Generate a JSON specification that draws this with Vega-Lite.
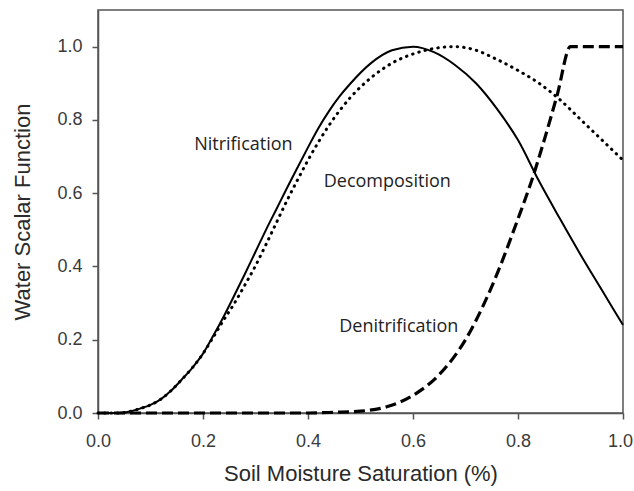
{
  "$schema": "https://vega.github.io/schema/vega-lite/v6.json",
  "width": 525,
  "height": 403,
  "autosize": "none",
  "padding": {"left": 98, "top": 10, "right": 11, "bottom": 78},
  "background": "white",
  "config": {
    "view": {"stroke": "#555", "strokeWidth": 1.5},
    "axis": {
      "grid": false,
      "domainColor": "#555",
      "domainWidth": 1.5,
      "tickColor": "#555",
      "tickWidth": 1.5,
      "tickSize": 6,
      "labelFont": "Liberation Sans",
      "labelFontSize": 18,
      "labelColor": "#3a3a3a",
      "labelFlush": false,
      "titleFont": "Liberation Sans",
      "titleFontSize": 22,
      "titleFontWeight": "normal",
      "titleColor": "#2a2a2a"
    }
  },
  "datasets": {
    "nitrification": [
      {"x": 0.0, "y": 0.0}, {"x": 0.04, "y": 0.0}, {"x": 0.06, "y": 0.004}, {"x": 0.08, "y": 0.012},
      {"x": 0.1, "y": 0.022}, {"x": 0.12, "y": 0.038}, {"x": 0.14, "y": 0.062}, {"x": 0.16, "y": 0.092},
      {"x": 0.18, "y": 0.124}, {"x": 0.2, "y": 0.162}, {"x": 0.22, "y": 0.212}, {"x": 0.24, "y": 0.265},
      {"x": 0.26, "y": 0.322}, {"x": 0.28, "y": 0.38}, {"x": 0.3, "y": 0.44}, {"x": 0.32, "y": 0.5},
      {"x": 0.34, "y": 0.557}, {"x": 0.36, "y": 0.614}, {"x": 0.38, "y": 0.67}, {"x": 0.4, "y": 0.725},
      {"x": 0.42, "y": 0.778}, {"x": 0.44, "y": 0.824}, {"x": 0.46, "y": 0.864}, {"x": 0.48, "y": 0.898},
      {"x": 0.52, "y": 0.955}, {"x": 0.56, "y": 0.99},
      {"x": 0.6, "y": 1.0}, {"x": 0.64, "y": 0.985}, {"x": 0.68, "y": 0.95}, {"x": 0.72, "y": 0.9},
      {"x": 0.76, "y": 0.83}, {"x": 0.8, "y": 0.745}, {"x": 0.84, "y": 0.633}, {"x": 0.88, "y": 0.53},
      {"x": 0.92, "y": 0.43}, {"x": 0.96, "y": 0.335}, {"x": 1.0, "y": 0.24}
    ],
    "decomposition": [
      {"x": 0.0, "y": 0.0}, {"x": 0.04, "y": 0.0}, {"x": 0.06, "y": 0.004}, {"x": 0.08, "y": 0.012},
      {"x": 0.1, "y": 0.022}, {"x": 0.12, "y": 0.038}, {"x": 0.14, "y": 0.062}, {"x": 0.16, "y": 0.092},
      {"x": 0.18, "y": 0.124}, {"x": 0.2, "y": 0.162}, {"x": 0.22, "y": 0.208}, {"x": 0.24, "y": 0.255},
      {"x": 0.26, "y": 0.3}, {"x": 0.28, "y": 0.35}, {"x": 0.3, "y": 0.402}, {"x": 0.32, "y": 0.46},
      {"x": 0.34, "y": 0.52}, {"x": 0.36, "y": 0.58}, {"x": 0.38, "y": 0.636}, {"x": 0.4, "y": 0.69},
      {"x": 0.44, "y": 0.785}, {"x": 0.48, "y": 0.86}, {"x": 0.52, "y": 0.915}, {"x": 0.56, "y": 0.955},
      {"x": 0.6, "y": 0.98}, {"x": 0.64, "y": 0.995}, {"x": 0.68, "y": 1.0}, {"x": 0.72, "y": 0.99},
      {"x": 0.76, "y": 0.965}, {"x": 0.8, "y": 0.935}, {"x": 0.84, "y": 0.9}, {"x": 0.88, "y": 0.855},
      {"x": 0.92, "y": 0.8}, {"x": 0.96, "y": 0.745}, {"x": 1.0, "y": 0.69}
    ],
    "denitrification": [
      {"x": 0.0, "y": 0.0}, {"x": 0.1, "y": 0.0}, {"x": 0.2, "y": 0.0}, {"x": 0.3, "y": 0.0},
      {"x": 0.4, "y": 0.0}, {"x": 0.45, "y": 0.002}, {"x": 0.5, "y": 0.005}, {"x": 0.55, "y": 0.017},
      {"x": 0.6, "y": 0.048}, {"x": 0.65, "y": 0.105}, {"x": 0.7, "y": 0.2}, {"x": 0.75, "y": 0.345},
      {"x": 0.8, "y": 0.53}, {"x": 0.825, "y": 0.63}, {"x": 0.85, "y": 0.745}, {"x": 0.875, "y": 0.87},
      {"x": 0.9, "y": 1.0}, {"x": 0.95, "y": 1.0}, {"x": 1.0, "y": 1.0}
    ],
    "labels": [
      {"x": 0.277, "y": 0.732, "label": "Nitrification"},
      {"x": 0.551, "y": 0.631, "label": "Decomposition"},
      {"x": 0.573, "y": 0.234, "label": "Denitrification"}
    ]
  },
  "encoding": {
    "x": {
      "field": "x", "type": "quantitative",
      "scale": {"domain": [0, 1], "nice": false},
      "axis": {
        "title": "Soil Moisture Saturation (%)",
        "values": [0, 0.2, 0.4, 0.6, 0.8, 1.0],
        "format": ".1f",
        "labelPadding": 13,
        "titlePadding": 13,
        "labelOffset": {"condition": {"test": "datum.value == 1", "value": -3}, "value": 0}
      }
    },
    "y": {
      "field": "y", "type": "quantitative",
      "scale": {"domain": [0, 1.1], "nice": false},
      "axis": {"title": "Water Scalar Function", "values": [0, 0.2, 0.4, 0.6, 0.8, 1.0], "format": ".1f", "labelPadding": 10, "titlePadding": 22}
    }
  },
  "layer": [
    {
      "data": {"name": "denitrification"},
      "mark": {"type": "line", "color": "black", "strokeWidth": 3.2, "strokeDash": [11, 5], "interpolate": "monotone"}
    },
    {
      "data": {"name": "decomposition"},
      "mark": {"type": "line", "color": "black", "strokeWidth": 3, "strokeDash": [0.5, 6], "strokeCap": "round", "interpolate": "monotone"}
    },
    {
      "data": {"name": "nitrification"},
      "mark": {"type": "line", "color": "black", "strokeWidth": 2, "interpolate": "monotone"}
    },
    {
      "data": {"name": "labels"},
      "mark": {"type": "text", "font": "Open Sans", "fontSize": 18, "color": "#222", "align": "center", "baseline": "middle"},
      "encoding": {"text": {"field": "label"}}
    }
  ]
}
